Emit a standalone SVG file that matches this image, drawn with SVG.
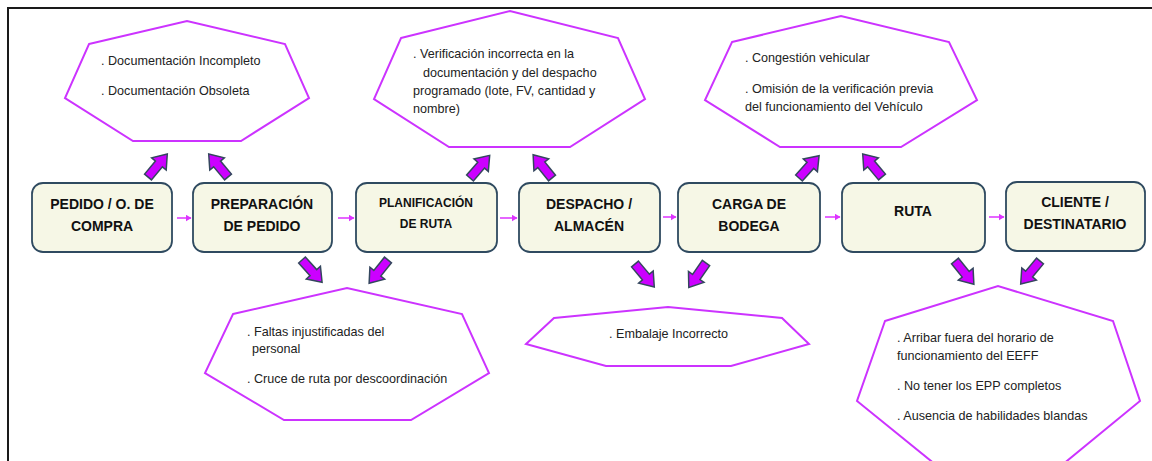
<svg xmlns="http://www.w3.org/2000/svg" xmlns:xlink="http://www.w3.org/1999/xlink" width="1152" height="461" viewBox="0 0 1152 461">
<defs>
<style>
.frame{fill:none;stroke:#1a1a1a;stroke-width:2}
.box{fill:#f6f7e6;stroke:#2f4a60;stroke-width:1.8}
.bt{font-family:"Liberation Sans",Arial,sans-serif;font-weight:bold;font-size:14px;fill:#111;text-anchor:middle}
.bts{font-family:"Liberation Sans",Arial,sans-serif;font-weight:bold;font-size:12px;fill:#111;text-anchor:middle}
.hept{fill:#fff;stroke:#cc33ff;stroke-width:2;stroke-linejoin:miter}
.ht{font-family:"Liberation Sans",Arial,sans-serif;font-size:12.6px;fill:#222}
.con{stroke:#dd33ff;stroke-width:1.5;fill:none}
.blk{fill:#cc00ff;stroke:#34475e;stroke-width:1.5;stroke-linejoin:miter}
</style>
<marker id="ah" viewBox="0 0 6 7" refX="5.5" refY="3.5" markerWidth="6" markerHeight="7" markerUnits="userSpaceOnUse" orient="auto">
<path d="M0,0 L6,3.5 L0,7 Z" fill="#dd33ff"/>
</marker>
<polygon id="blkarrow" class="blk" points="0,-4.5 17,-4.5 17,-9.5 30,0 17,9.5 17,4.5 0,4.5"/>
</defs>
<rect width="1152" height="461" fill="#fff"/>
<path class="frame" d="M8,462 V8 H1152"/>

<g id="connectors">
<line class="con" x1="177" y1="218" x2="191" y2="218" marker-end="url(#ah)"/>
<line class="con" x1="338" y1="218" x2="354" y2="218" marker-end="url(#ah)"/>
<line class="con" x1="500" y1="218" x2="517" y2="218" marker-end="url(#ah)"/>
<line class="con" x1="663" y1="217" x2="676" y2="217" marker-end="url(#ah)"/>
<line class="con" x1="825" y1="217" x2="840" y2="217" marker-end="url(#ah)"/>
<line class="con" x1="989" y1="217" x2="1004" y2="217" marker-end="url(#ah)"/>
<use xlink:href="#blkarrow" transform="translate(148,177) rotate(-50)"/>
<use xlink:href="#blkarrow" transform="translate(228,177) rotate(-130)"/>
<use xlink:href="#blkarrow" transform="translate(470,178) rotate(-49)"/>
<use xlink:href="#blkarrow" transform="translate(552,178) rotate(-129)"/>
<use xlink:href="#blkarrow" transform="translate(799,178) rotate(-48)"/>
<use xlink:href="#blkarrow" transform="translate(882,177) rotate(-130)"/>
<use xlink:href="#blkarrow" transform="translate(302,260) rotate(48)"/>
<use xlink:href="#blkarrow" transform="translate(388,260) rotate(129)"/>
<use xlink:href="#blkarrow" transform="translate(635,264) rotate(50)"/>
<use xlink:href="#blkarrow" transform="translate(706,263) rotate(125)"/>
<use xlink:href="#blkarrow" transform="translate(955,261) rotate(51)"/>
<use xlink:href="#blkarrow" transform="translate(1040,261) rotate(130)"/>
</g>

<g id="n1"><rect class="box" x="32" y="183" width="140" height="69" rx="11"/>
<text class="bt" x="102" y="209">PEDIDO / O. DE</text><text class="bt" x="102" y="231">COMPRA</text></g>
<g id="n2"><rect class="box" x="193" y="183" width="139" height="69" rx="11"/>
<text class="bt" x="262" y="209">PREPARACIÓN</text><text class="bt" x="262" y="231">DE PEDIDO</text></g>
<g id="n3"><rect class="box" x="356" y="183" width="141" height="69" rx="11"/>
<text class="bts" x="426" y="207">PLANIFICACIÓN</text><text class="bts" x="426" y="228">DE RUTA</text></g>
<g id="n4"><rect class="box" x="519" y="183" width="141" height="69" rx="11"/>
<text class="bt" x="589" y="209">DESPACHO /</text><text class="bt" x="589" y="231">ALMACÉN</text></g>
<g id="n5"><rect class="box" x="678" y="183" width="142" height="69" rx="11"/>
<text class="bt" x="749" y="209">CARGA DE</text><text class="bt" x="749" y="231">BODEGA</text></g>
<g id="n6"><rect class="box" x="842" y="183" width="143" height="69" rx="11"/>
<text class="bt" x="913" y="216">RUTA</text></g>
<g id="n7"><rect class="box" x="1006" y="182" width="139" height="69" rx="11"/>
<text class="bt" x="1075" y="207">CLIENTE /</text><text class="bt" x="1075" y="229">DESTINATARIO</text></g>

<g id="h1"><polygon class="hept" points="89,44 187,21 285,44 309,98 241,141 133,141 65,98"/>
<text class="ht" x="101" y="65">. Documentación Incompleto</text>
<text class="ht" x="101" y="95">. Documentación Obsoleta</text></g>
<g id="h2"><polygon class="hept" points="401,38 510,11 618,38 645,99 570,147 449,147 374,99"/>
<text class="ht" x="413" y="58">. Verificación incorrecta en la</text>
<text class="ht" x="423" y="77">documentación y del despacho</text>
<text class="ht" x="413" y="95">programado (lote, FV, cantidad y</text>
<text class="ht" x="413" y="113">nombre)</text></g>
<g id="h3"><polygon class="hept" points="732,42 841,16 949,42 977,100 901,147 780,147 705,100"/>
<text class="ht" x="745" y="62">. Congestión vehicular</text>
<text class="ht" x="745" y="93">. Omisión de la verificación previa</text>
<text class="ht" x="745" y="111">del funcionamiento del Vehículo</text></g>
<g id="h4"><polygon class="hept" points="233,314 347,288 462,314 489,373 411,420 284,420 205,373"/>
<text class="ht" x="247" y="336">. Faltas injustificadas del</text>
<text class="ht" x="252" y="353">personal</text>
<text class="ht" x="247" y="383">. Cruce de ruta por descoordinación</text></g>
<g id="h5"><polygon class="hept" points="554,318 668,307 782,318 809,344 731,366 606,366 526,344"/>
<text class="ht" x="609" y="338">. Embalaje Incorrecto</text></g>
<g id="h6"><polygon class="hept" points="885,321 998,286 1113,321 1140,401 1062,465 936,465 857,401"/>
<text class="ht" x="897" y="342">. Arribar fuera del horario de</text>
<text class="ht" x="897" y="360">funcionamiento del EEFF</text>
<text class="ht" x="897" y="390">. No tener los EPP completos</text>
<text class="ht" x="897" y="420">. Ausencia de habilidades blandas</text></g>
</svg>
